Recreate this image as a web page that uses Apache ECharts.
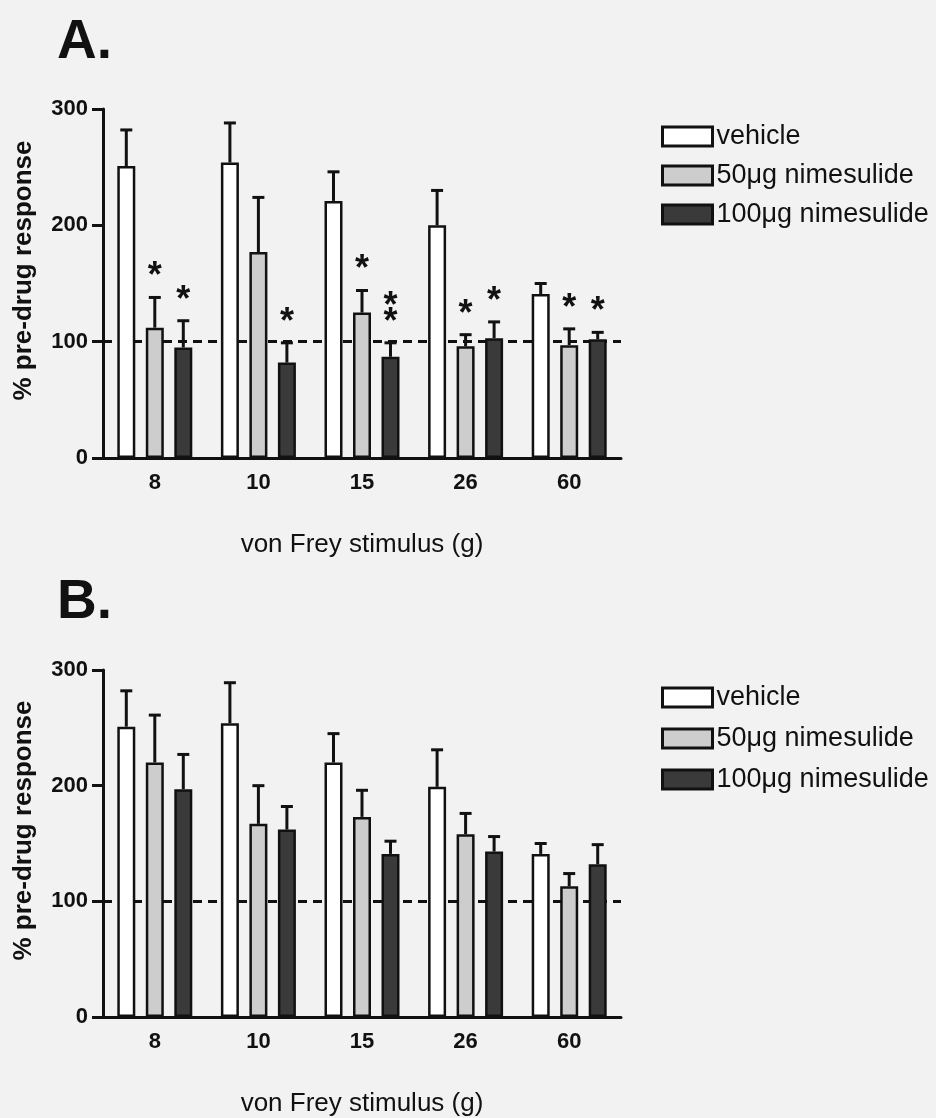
<!DOCTYPE html>
<html>
<head>
<meta charset="utf-8">
<script src="https://cdn.jsdelivr.net/npm/echarts@6/dist/echarts.min.js"></script>
<style>
  html, body { margin: 0; padding: 0; background: #f2f2f2; }
  #content { width: 936px; height: 1118px; }
</style>
</head>
<body>
<div id="content"></div>
<script>
var categories = ['8', '10', '15', '26', '60'];
var seriesNames = ['vehicle', '50μg nimesulide', '100μg nimesulide'];
var yTicks = [0, 100, 200, 300];

// panel A: means, SEM, significance marks
var vehicleA = [251, 254, 221, 200, 141];
var vehicleSemA = [31, 34, 25, 30, 9];
var lowA = [112, 177, 125, 96, 97];
var lowSemA = [26, 47, 19, 10, 14];
var highA = [95, 82, 87, 103, 102];
var highSemA = [23, 17, 12, 14, 6];
var vehicleSigA = ['', '', '', '', ''];
var lowSigA = ['*', '', '*', '*', '*'];
var highSigA = ['*', '*', '**', '*', '*'];

// panel B
var vehicleB = [251, 254, 220, 199, 141];
var vehicleSemB = [31, 35, 25, 32, 9];
var lowB = [220, 167, 173, 158, 113];
var lowSemB = [41, 33, 23, 18, 11];
var highB = [197, 162, 141, 143, 132];
var highSemB = [30, 20, 11, 13, 17];

var baseline = 100;

var colors = ['#ffffff', '#cdcdcd', '#3a3a3a'];
var ink = '#111111';
var font = '"Liberation Sans", Arial, sans-serif';
var barW = 18;
var step = 28.5; // distance between bar centres inside a group

var myChart = echarts.init(document.getElementById('content'), null, {renderer: 'canvas'});

function errData(means, sems, sigs, g) {
    return means.map(function (v, i) {
        return [i, v, v + sems[i], g, sigs ? sigs[i] : ''];
    });
}

function renderErr(params, api) {
    var i = api.value(0);
    var g = api.value(3);
    var sig = api.value(4);
    var p0 = api.coord([i, api.value(1)]);
    var p1 = api.coord([i, api.value(2)]);
    var x = p0[0] + (g - 1) * step;
    var st = {stroke: ink, lineWidth: 3};
    var kids = [
        {type: 'line', shape: {x1: x, y1: p0[1], x2: x, y2: p1[1]}, style: st},
        {type: 'line', shape: {x1: x - 6, y1: p1[1], x2: x + 6, y2: p1[1]}, style: st}
    ];
    if (sig) {
        for (var k = 0; k < sig.length; k++) {
            kids.push({
                type: 'text',
                style: {
                    text: '*', x: x, y: p1[1] - 20 - k * 16,
                    align: 'center', verticalAlign: 'middle',
                    font: 'bold 36px ' + font, fill: ink
                }
            });
        }
    }
    return {type: 'group', children: kids};
}

function barSeries(name, data, idx, gi, withLine) {
    var s = {
        name: name,
        type: 'bar',
        xAxisIndex: gi,
        yAxisIndex: gi,
        barWidth: barW,
        barGap: ((step - barW) / barW * 100) + '%',
        itemStyle: {color: colors[idx], borderColor: ink, borderWidth: 2.5},
        data: data
    };
    if (withLine) {
        s.markLine = {
            silent: true,
            z: 1,
            symbol: ['none', 'none'],
            label: {show: false},
            lineStyle: {color: ink, width: 3, type: [9, 6]},
            data: [{yAxis: baseline}]
        };
    }
    return s;
}

function errSeries(gi, rows) {
    return {
        type: 'custom',
        xAxisIndex: gi,
        yAxisIndex: gi,
        renderItem: renderErr,
        z: 3,
        data: rows
    };
}

function xAxisOf(gi) {
    return {
        type: 'category',
        gridIndex: gi,
        data: categories,
        name: 'von Frey stimulus (g)',
        nameLocation: 'middle',
        nameGap: 74,
        nameTextStyle: {fontFamily: font, fontSize: 26, color: ink},
        axisLine: {lineStyle: {color: ink, width: 3}},
        axisTick: {alignWithLabel: true, length: 8, lineStyle: {color: ink, width: 3}},
        axisLabel: {fontFamily: font, fontSize: 22, fontWeight: 'bold', color: ink, margin: 14}
    };
}

function yAxisOf(gi) {
    return {
        type: 'value',
        gridIndex: gi,
        min: yTicks[0],
        max: yTicks[yTicks.length - 1],
        interval: 100,
        name: '% pre-drug response',
        nameLocation: 'middle',
        nameRotate: 90,
        nameGap: 66,
        nameTextStyle: {fontFamily: font, fontSize: 26, fontWeight: 'bold', color: ink, padding: [0, 0, 0, 26]},
        axisLine: {show: true, lineStyle: {color: ink, width: 3}},
        axisTick: {show: true, length: 11, lineStyle: {color: ink, width: 3}},
        axisLabel: {fontFamily: font, fontSize: 22, fontWeight: 'bold', color: ink, margin: 15},
        splitLine: {show: false}
    };
}

function legendOf(top, gap) {
    return {
        data: seriesNames,
        orient: 'vertical',
        left: 656,
        top: top,
        itemWidth: 50,
        itemHeight: 19,
        itemGap: gap,
        selectedMode: false,
        icon: 'rect',
        itemStyle: {borderWidth: 3},
        textStyle: {fontFamily: font, fontSize: 27, color: ink, padding: [0, 0, 0, -1]}
    };
}

var option = {
    backgroundColor: '#f2f2f2',
    animation: false,
    title: [
        {text: 'A.', left: 52, top: 10, textStyle: {fontFamily: font, fontSize: 55, fontWeight: 'bold', color: ink}},
        {text: 'B.', left: 52, top: 570, textStyle: {fontFamily: font, fontSize: 55, fontWeight: 'bold', color: ink}}
    ],
    legend: [legendOf(118, 12), legendOf(679, 14)],
    grid: [
        {left: 103, top: 109, width: 518, height: 349},
        {left: 103, top: 670, width: 518, height: 349}
    ],
    xAxis: [xAxisOf(0), xAxisOf(1)],
    yAxis: [yAxisOf(0), yAxisOf(1)],
    series: [
        barSeries(seriesNames[0], vehicleA, 0, 0, true),
        barSeries(seriesNames[1], lowA, 1, 0),
        barSeries(seriesNames[2], highA, 2, 0),
        errSeries(0, [].concat(
            errData(vehicleA, vehicleSemA, vehicleSigA, 0),
            errData(lowA, lowSemA, lowSigA, 1),
            errData(highA, highSemA, highSigA, 2)
        )),
        barSeries(seriesNames[0], vehicleB, 0, 1, true),
        barSeries(seriesNames[1], lowB, 1, 1),
        barSeries(seriesNames[2], highB, 2, 1),
        errSeries(1, [].concat(
            errData(vehicleB, vehicleSemB, null, 0),
            errData(lowB, lowSemB, null, 1),
            errData(highB, highSemB, null, 2)
        ))
    ]
};

myChart.setOption(option);
</script>
</body>
</html>
